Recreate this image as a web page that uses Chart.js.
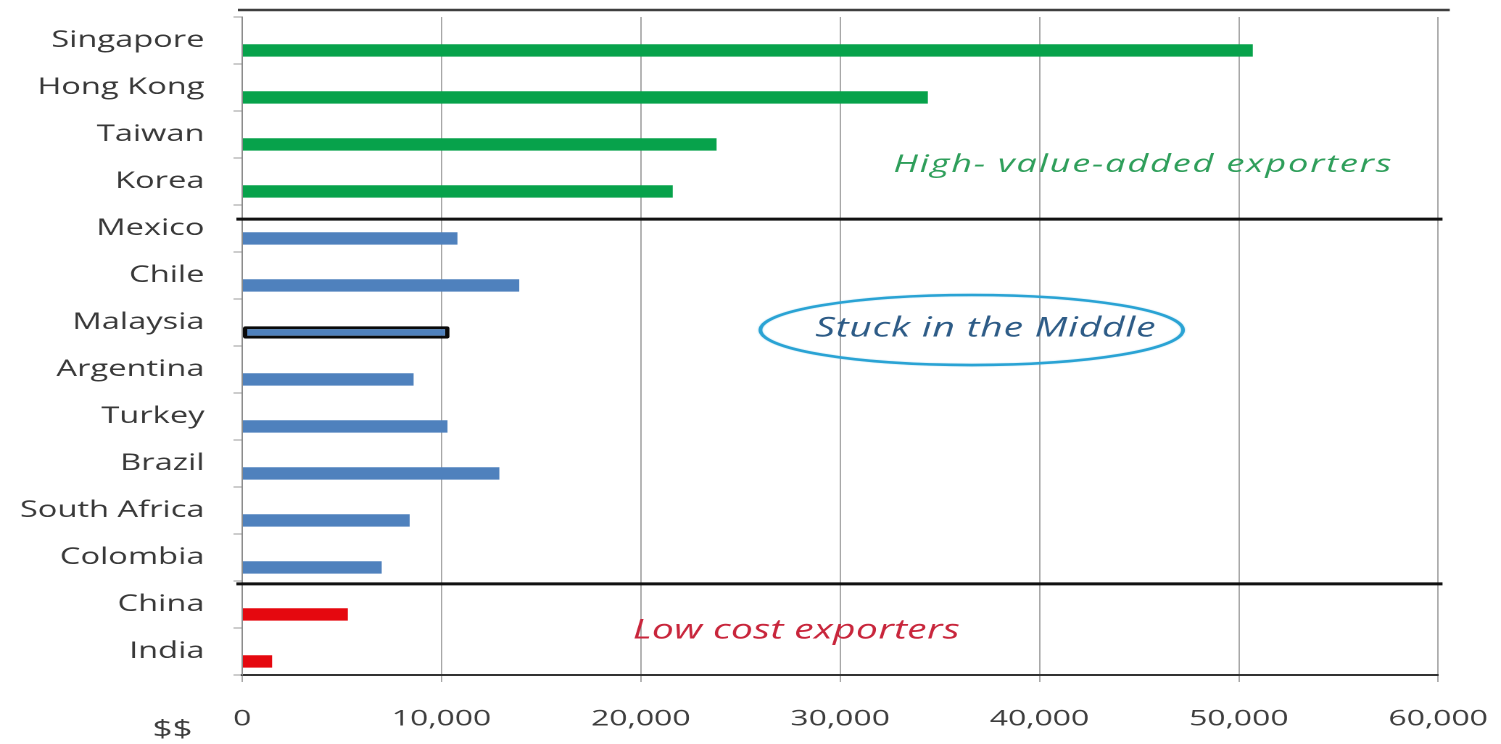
<!DOCTYPE html>
<html>
<head>
<meta charset="utf-8">
<title>GDP per capita: exporters</title>
<script src="https://cdn.jsdelivr.net/npm/chart.js@4.4.1/dist/chart.umd.min.js"></script>
<style>
  html, body { margin: 0; padding: 0; background: #fff; overflow: hidden; }
  /* the chart is laid out narrow and widened horizontally */
  #wrap {
    position: absolute; left: 0; top: 0;
    width: 1035px; height: 744px;
    transform: scaleX(1.4502); transform-origin: 0 0;
  }
</style>
</head>
<body>
<div id="wrap"><canvas id="chart"></canvas></div>
<script>
// Countries, top to bottom
const countries = ['Singapore', 'Hong Kong', 'Taiwan', 'Korea', 'Mexico', 'Chile', 'Malaysia',
  'Argentina', 'Turkey', 'Brazil', 'South Africa', 'Colombia', 'China', 'India'];
// Value per country, US$
const values = [50700, 34400, 23800, 21600, 10800, 13900, 10400, 8600, 10300, 12900, 8400, 7000, 5300, 1500];
// Exporter group of each country
const groups = ['high', 'high', 'high', 'high', 'mid', 'mid', 'mid', 'mid', 'mid', 'mid', 'mid', 'mid', 'low', 'low'];
const highlighted = ['Malaysia'];
// Horizontal axis ticks
const xTickValues = [0, 10000, 20000, 30000, 40000, 50000, 60000];
const xTickLabels = ['0', '10,000', '20,000', '30,000', '40,000', '50,000', '60,000'];

const groupColors = { high: '#07a24b', mid: '#4f81bd', low: '#e5080f' };

// Group labels, placed in data units (x value, category index)
const groupNotes = [
  { text: 'High- value-added exporters', x: 45200, y: 2.80, color: '#2e9e5a', size: 25, spacing: 1.2 },
  { text: 'Stuck in the Middle', x: 37300, y: 6.30, color: '#2d5b86', size: 27, spacing: 0.5 },
  { text: 'Low cost exporters', x: 27800, y: 12.72, color: '#c8253b', size: 27, spacing: 0.2 }
];
// Ellipse round the middle group label: centre and radii in data units
const middleRing = { x: 36600, y: 6.16, rx: 10600, ry: 0.745 };
// Dividers between the groups (category index)
const dividers = [3.80, 11.56];

const FONT = '"Open Sans", "DejaVu Sans", sans-serif';

const overlay = {
  id: 'overlay',
  afterDatasetsDraw(chart) {
    const { ctx, chartArea: a, scales: { x, y } } = chart;
    ctx.save();
    // rule above the plot
    ctx.strokeStyle = '#3f3f3f';
    ctx.lineWidth = 2.5;
    ctx.beginPath();
    ctx.moveTo(a.left - 3, a.top - 7);
    ctx.lineTo(a.right + 8, a.top - 7);
    ctx.stroke();

    // group dividers
    ctx.strokeStyle = '#111';
    ctx.lineWidth = 3;
    dividers.forEach(d => {
      const py = y.getPixelForValue(d);
      ctx.beginPath();
      ctx.moveTo(a.left - 4, py);
      ctx.lineTo(a.right + 3, py);
      ctx.stroke();
    });

    // ellipse
    const cx = x.getPixelForValue(middleRing.x);
    const cy = y.getPixelForValue(middleRing.y);
    const rx = x.getPixelForValue(middleRing.x + middleRing.rx) - cx;
    const ry = y.getPixelForValue(middleRing.y + middleRing.ry) - cy;
    ctx.strokeStyle = '#2aa3d4';
    ctx.lineWidth = 2.6;
    ctx.shadowColor = 'rgba(42,163,212,0.45)';
    ctx.shadowBlur = 3;
    ctx.beginPath();
    ctx.ellipse(cx, cy, rx, ry, 0, 0, Math.PI * 2);
    ctx.stroke();
    ctx.shadowBlur = 0;

    // group labels
    ctx.textAlign = 'center';
    ctx.textBaseline = 'alphabetic';
    groupNotes.forEach(n => {
      ctx.font = `italic ${n.size}px ${FONT}`;
      ctx.letterSpacing = `${n.spacing}px`;
      ctx.fillStyle = n.color;
      ctx.fillText(n.text, x.getPixelForValue(n.x), y.getPixelForValue(n.y));
    });
    ctx.letterSpacing = '0px';

    // unit label under the axis
    ctx.font = `24px ${FONT}`;
    ctx.fillStyle = '#3d3d3d';
    ctx.fillText('$$', a.left - 48, a.bottom + 62);
    ctx.restore();
  }
};

// fixed axis sizes; plot margins come from the layout padding only
function fixSize(prop, size) {
  return (scale) => {
    scale[prop] = size;
    scale.paddingTop = 0; scale.paddingBottom = 0;
    scale.paddingLeft = 0; scale.paddingRight = 0;
  };
}

new Chart(document.getElementById('chart'), {
  type: 'bar',
  data: {
    labels: countries,
    datasets: [
      // empty series that keeps the upper slot of each row free
      { label: '', data: [], backgroundColor: 'rgba(0,0,0,0)' },
      {
        label: 'US$',
        data: values,
        backgroundColor: groups.map(g => groupColors[g]),
        borderColor: countries.map(c => highlighted.includes(c) ? '#0a0a0a' : 'rgba(0,0,0,0)'),
        borderWidth: countries.map(c => highlighted.includes(c) ? 3 : 0),
        borderSkipped: false,
        borderRadius: countries.map(c => highlighted.includes(c) ? 2 : 0)
      }
    ]
  },
  options: {
    indexAxis: 'y',
    responsive: true,
    maintainAspectRatio: false,
    devicePixelRatio: 2,
    animation: false,
    categoryPercentage: 0.85,
    barPercentage: 0.62,
    layout: { padding: { top: 17, right: 43.3, left: 0, bottom: 0 } },
    plugins: {
      legend: { display: false },
      tooltip: { enabled: false },
      title: { display: false }
    },
    scales: {
      x: {
        min: 0,
        max: 60000,
        afterBuildTicks(scale) { scale.ticks = xTickValues.map(v => ({ value: v })); },
        afterFit: fixSize('height', 69),
        ticks: {
          callback: (v) => xTickLabels[xTickValues.indexOf(v)],
          font: { family: FONT, size: 22 },
          color: '#3d3d3d',
          padding: 24,
          maxRotation: 0
        },
        grid: { color: '#a8a8a8', lineWidth: 1, tickLength: 7, drawTicks: true },
        border: { color: '#333', width: 2 }
      },
      y: {
        afterFit: fixSize('width', 167),
        ticks: {
          font: { family: FONT, size: 22.5 },
          color: '#383838',
          padding: 20,
          autoSkip: false
        },
        grid: { drawOnChartArea: false, color: '#9a9a9a', tickLength: 6, offset: true },
        border: { color: '#8c8c8c', width: 1 }
      }
    }
  },
  plugins: [overlay]
});
</script>
</body>
</html>
